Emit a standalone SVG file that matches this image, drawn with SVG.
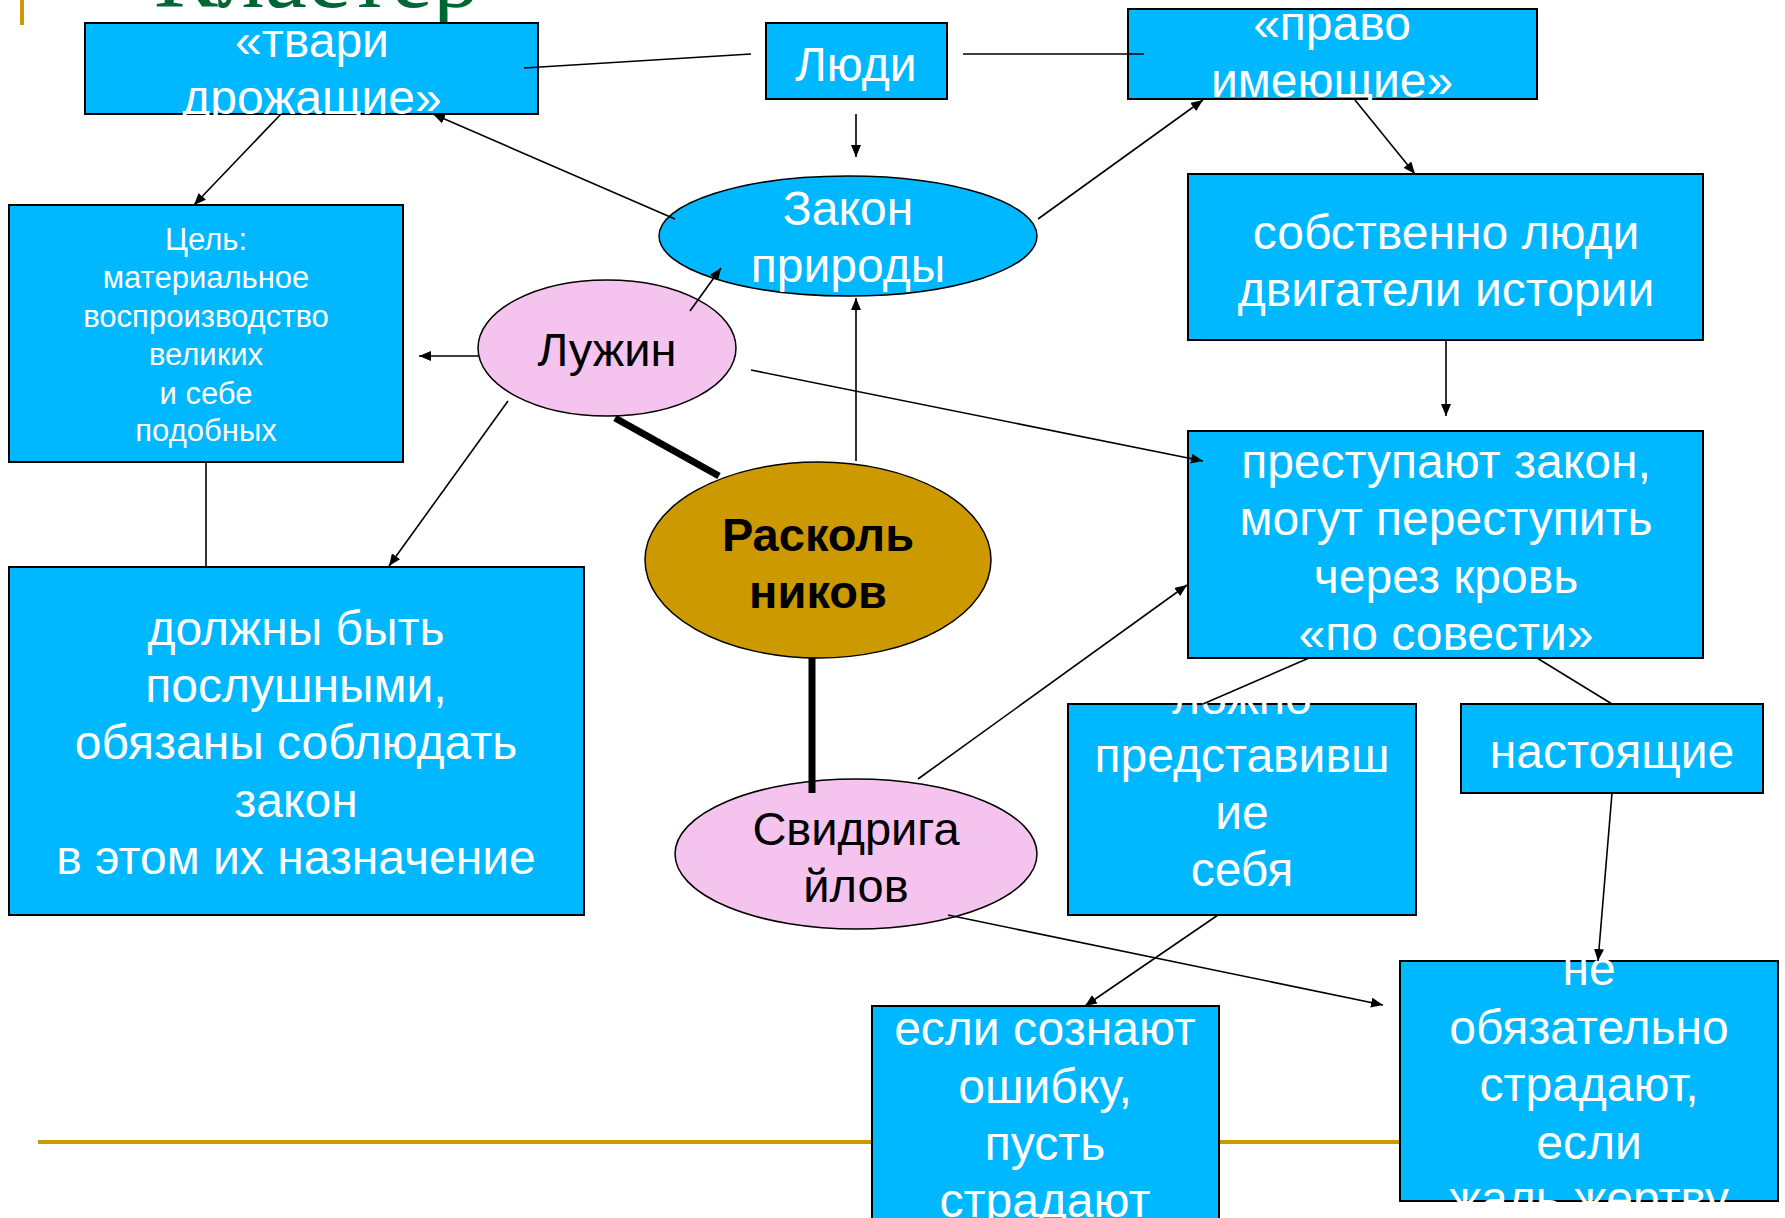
<svg xmlns="http://www.w3.org/2000/svg" width="1785" height="1218" viewBox="0 0 1785 1218">
<style>
.box{fill:#00B8FF;stroke:#000;stroke-width:2}
.pink{fill:#F4C3EE;stroke:#000;stroke-width:1.5}
.wt{font-family:"Liberation Sans",Arial,sans-serif;fill:#fff;text-anchor:middle;font-size:48px}
.bt{font-family:"Liberation Sans",Arial,sans-serif;fill:#000;text-anchor:middle;font-size:47px}
.sm{font-size:31px}
.conn line{stroke:#000;stroke-width:1.6;fill:none}
.conn line.thick{stroke-width:7}
</style>
<defs>
<marker id="arr" markerUnits="userSpaceOnUse" markerWidth="12" markerHeight="10" refX="12" refY="5" orient="auto">
<path d="M0,0 L12,5 L0,10 z" fill="#000"/>
</marker>
<clipPath id="cA"><rect x="81" y="19" width="461" height="99"/></clipPath>
<clipPath id="cC"><rect x="1124" y="5" width="417" height="98"/></clipPath>
<clipPath id="cL"><rect x="1064" y="700" width="356" height="219"/></clipPath>
<clipPath id="cO"><rect x="1396" y="957" width="386" height="248"/></clipPath>
</defs>

<rect x="20" y="0" width="4" height="25" fill="#CC9900"/>
<text x="154" y="7" font-family="'Liberation Serif','Times New Roman',serif" font-size="95" fill="#006633">Кластер</text>
<rect x="38" y="1140" width="1370" height="4" fill="#CC9900"/>

<g id="tvari">
<rect class="box" x="85" y="23" width="453" height="91"/>
<g clip-path="url(#cA)">
<text class="wt" x="312" y="57">«твари</text>
<text class="wt" x="312" y="114">дрожащие»</text>
</g>
</g>

<g id="lyudi">
<rect class="box" x="766" y="23" width="181" height="76"/>
<text class="wt" x="856" y="81">Люди</text>
</g>

<g id="pravo">
<rect class="box" x="1128" y="9" width="409" height="90"/>
<g clip-path="url(#cC)">
<text class="wt" x="1332" y="40">«право</text>
<text class="wt" x="1332" y="97">имеющие»</text>
</g>
</g>

<g id="zakon">
<ellipse cx="848" cy="236" rx="189" ry="60" fill="#00B8FF" stroke="#000" stroke-width="1.5"/>
<text class="wt" x="848" y="225">Закон</text>
<text class="wt" x="848" y="282">природы</text>
</g>

<g id="tsel">
<rect class="box" x="9" y="205" width="394" height="257"/>
<text class="wt sm" x="206" y="250">Цель:</text>
<text class="wt sm" x="206" y="288">материальное</text>
<text class="wt sm" x="206" y="327">воспроизводство</text>
<text class="wt sm" x="206" y="365">великих</text>
<text class="wt sm" x="206" y="404">и себе</text>
<text class="wt sm" x="206" y="441">подобных</text>
</g>

<g id="luzhin">
<ellipse class="pink" cx="607" cy="348" rx="129" ry="68"/>
<text class="bt" x="607" y="366">Лужин</text>
</g>

<g id="dolzhny">
<rect class="box" x="9" y="567" width="575" height="348"/>
<text class="wt" x="296" y="645">должны быть</text>
<text class="wt" x="296" y="702">послушными,</text>
<text class="wt" x="296" y="759">обязаны соблюдать</text>
<text class="wt" x="296" y="817">закон</text>
<text class="wt" x="296" y="874">в этом их назначение</text>
</g>

<g id="raskolnikov">
<ellipse cx="818" cy="560" rx="173" ry="98" fill="#CC9900" stroke="#000" stroke-width="1.5"/>
<text class="bt" x="818" y="551" font-weight="bold" font-size="46">Расколь</text>
<text class="bt" x="818" y="608" font-weight="bold" font-size="46">ников</text>
</g>

<g id="svidrigailov">
<ellipse class="pink" cx="856" cy="854" rx="181" ry="75"/>
<text class="bt" x="856" y="845">Свидрига</text>
<text class="bt" x="856" y="902">йлов</text>
</g>

<g id="sobstvenno">
<rect class="box" x="1188" y="174" width="515" height="166"/>
<text class="wt" x="1446" y="249">собственно люди</text>
<text class="wt" x="1446" y="306">двигатели истории</text>
</g>

<g id="prestupayut">
<rect class="box" x="1188" y="431" width="515" height="227"/>
<text class="wt" x="1446" y="478">преступают закон,</text>
<text class="wt" x="1446" y="535">могут переступить</text>
<text class="wt" x="1446" y="593">через кровь</text>
<text class="wt" x="1446" y="650">«по совести»</text>
</g>

<g id="lozhno">
<rect class="box" x="1068" y="704" width="348" height="211"/>
<g clip-path="url(#cL)">
<text class="wt" x="1242" y="714">ложно</text>
<text class="wt" x="1242" y="772">представивш</text>
<text class="wt" x="1242" y="829">ие</text>
<text class="wt" x="1242" y="886">себя</text>
</g>
</g>

<g id="nastoyashchie">
<rect class="box" x="1461" y="704" width="302" height="89"/>
<text class="wt" x="1612" y="768">настоящие</text>
</g>

<g id="esli">
<rect class="box" x="872" y="1006" width="347" height="230"/>
<text class="wt" x="1045" y="1045">если сознают</text>
<text class="wt" x="1045" y="1103">ошибку,</text>
<text class="wt" x="1045" y="1160">пусть</text>
<text class="wt" x="1045" y="1217">страдают</text>
</g>

<g id="ne">
<rect class="box" x="1400" y="961" width="378" height="240"/>
<g clip-path="url(#cO)">
<text class="wt" x="1589" y="985">не</text>
<text class="wt" x="1589" y="1044">обязательно</text>
<text class="wt" x="1589" y="1101">страдают,</text>
<text class="wt" x="1589" y="1159">если</text>
<text class="wt" x="1589" y="1215">жаль жертву</text>
</g>
</g>

<g class="conn" id="connectors">
<line x1="751" y1="54" x2="524" y2="68"/>
<line x1="963" y1="54" x2="1144" y2="54"/>
<line x1="856" y1="114" x2="856" y2="157" marker-end="url(#arr)"/>
<line x1="675" y1="219" x2="433" y2="114" marker-end="url(#arr)"/>
<line x1="1038" y1="219" x2="1203" y2="100" marker-end="url(#arr)"/>
<line x1="281" y1="114" x2="194" y2="205" marker-end="url(#arr)"/>
<line x1="1355" y1="100" x2="1415" y2="174" marker-end="url(#arr)"/>
<line x1="1446" y1="340" x2="1446" y2="416" marker-end="url(#arr)"/>
<line x1="690" y1="311" x2="721" y2="268" marker-end="url(#arr)"/>
<line x1="478" y1="356" x2="419" y2="356" marker-end="url(#arr)"/>
<line x1="508" y1="401" x2="389" y2="566" marker-end="url(#arr)"/>
<line x1="751" y1="370" x2="1203" y2="461" marker-end="url(#arr)"/>
<line x1="206" y1="462" x2="206" y2="567"/>
<line x1="856" y1="461" x2="856" y2="298" marker-end="url(#arr)"/>
<line class="thick" x1="615" y1="418" x2="719" y2="476"/>
<line class="thick" x1="812" y1="658" x2="812" y2="793"/>
<line x1="918" y1="779" x2="1187" y2="585" marker-end="url(#arr)"/>
<line x1="948" y1="915" x2="1383" y2="1005" marker-end="url(#arr)"/>
<line x1="1309" y1="658" x2="1203" y2="704"/>
<line x1="1537" y1="658" x2="1612" y2="704"/>
<line x1="1218" y1="915" x2="1085" y2="1006" marker-end="url(#arr)"/>
<line x1="1612" y1="793" x2="1598" y2="961" marker-end="url(#arr)"/>
</g>
</svg>
